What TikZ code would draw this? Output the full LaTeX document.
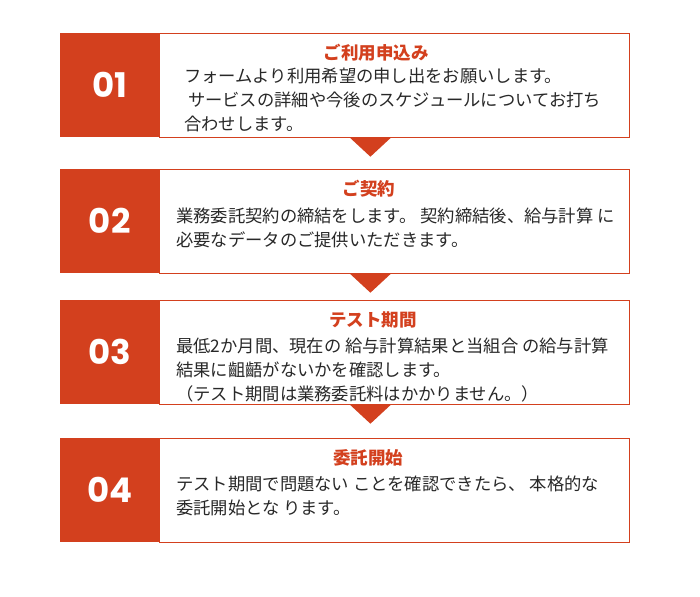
\documentclass[tikz,border=0pt]{standalone}
\usepackage{fontspec}
\setmainfont{Noto Sans CJK JP}
\newfontfamily\numfont{Poppins}
\usetikzlibrary{positioning}
\definecolor{stepred}{RGB}{211,64,30}
\definecolor{bodygray}{RGB}{40,40,40}
\tikzset{
  numbox/.style={fill=stepred, minimum width=99pt, minimum height=104pt, inner sep=0pt,
    font=\numfont\bfseries\fontsize{34}{34}\selectfont, text=white},
  textbox/.style={draw=stepred, line width=1pt, minimum width=470pt, minimum height=104pt, inner sep=0pt},
  steptitle/.style={font=\bfseries\fontsize{17.5}{20}\selectfont, text=stepred, anchor=base, inner sep=0pt},
  stepbody/.style={font=\fontsize{17.3}{24}\selectfont, text=bodygray, align=left, anchor=base west, inner sep=0pt},
  steptip/.style={fill=stepred}
}
\begin{document}
\begin{tikzpicture}[x=1pt,y=-1pt]
        \useasboundingbox (0,0) rectangle (700,596);
        \fill [white] (0,0) rectangle (700,596);
        % step 01 (body placed by its last line)
        \node [numbox, anchor=north west] (num1) at (60,33) {01};
        \node [textbox, right=0pt of num1] (box1) {};
        \node [steptitle] (title1) at (376,60) {ご利用申込み};
        \node [stepbody] (body1) at (184,131) {フォームより利用希望の申し出をお願いします。\\\ サービスの詳細や今後のスケジュールについてお打ち\\合わせします。};
        \fill [steptip] (box1.south -| num1.east) ++(190.5,0) -- ++(41,0) -- ++(-20.5,19) -- cycle;
        % step 02
        \node [numbox, anchor=north west] (num2) at (60,169) {02};
        \node [textbox, right=0pt of num2] (box2) {};
        \node [steptitle] (title2) at (369,195) {ご契約};
        \node [stepbody] (body2) at (176,246) {業務委託契約の締結をします。 契約締結後、給与計算 に\\必要なデータのご提供いただきます。};
        \fill [steptip] (box2.south -| num2.east) ++(190.5,0) -- ++(41,0) -- ++(-20.5,19) -- cycle;
        % step 03
        \node [numbox, anchor=north west] (num3) at (60,300) {03};
        \node [textbox, right=0pt of num3] (box3) {};
        \node [steptitle] (title3) at (373,326) {テスト期間};
        \node [stepbody] (body3) at (176,400) {最低2か月間、現在の 給与計算結果と当組合 の給与計算\\結果に齟齬がないかを確認します。\\（テスト期間は業務委託料はかかりません。）};
        \fill [steptip] (box3.south -| num3.east) ++(190.5,0) -- ++(41,0) -- ++(-20.5,19) -- cycle;
        % step 04
        \node [numbox, anchor=north west] (num4) at (60,438) {04};
        \node [textbox, right=0pt of num4] (box4) {};
        \node [steptitle] (title4) at (368,464) {委託開始};
        \node [stepbody] (body4) at (176,514) {テスト期間で問題ない ことを確認できたら、 本格的な\\委託開始とな ります。};
\end{tikzpicture}
\end{document}
